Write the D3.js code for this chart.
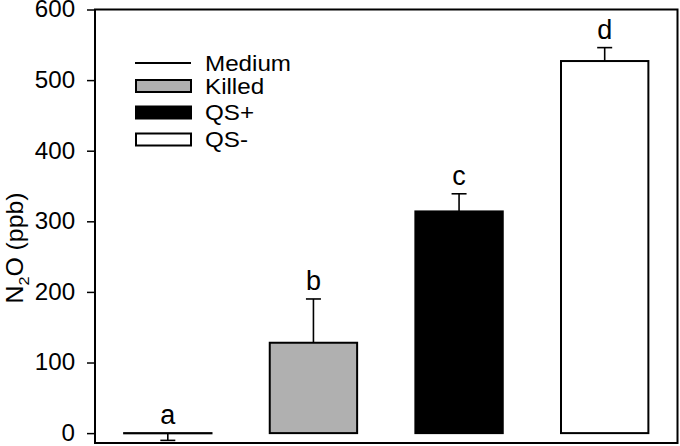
<!DOCTYPE html>
<html>
<head>
<meta charset="utf-8">
<script src="https://cdn.jsdelivr.net/npm/d3@7"></script>
<style>
  body { margin: 0; background: #fff; }
  svg { display: block; font-family: Arial, "Liberation Sans", sans-serif; }
</style>
</head>
<body>
<svg id="chart" width="680" height="446"></svg>
<script>
// treatments, means, standard errors, significance letters
const categories = ['Medium', 'Killed', 'QS+', 'QS-'];
const means = [-0.3, 128, 314, 527];
const errors = [10, 62, 25, 19];
const letters = ['a', 'b', 'c', 'd'];
const yTicks = [0, 100, 200, 300, 400, 500, 600];

const FILLS = ['#fff', '#b0b0b0', '#000', '#fff'];

// the original lettering is a bit wider than Arial
const TICK_FONT_PX = 23;
const TICK_STRETCH = 1.05;
const LEGEND_FONT_PX = 22;
const LEGEND_STRETCH = 1.1;
const LABEL_FONT_PX = 23;
const LABEL_STRETCH = 1.08;

const W = 680, H = 446;
const M = { top: 9.5, right: 2.5, bottom: 3, left: 95 };

const svg = d3.select('#chart');

const x = d3.scaleBand()
  .domain(categories)
  .range([M.left, W - M.right])
  .paddingInner(0.4)
  .paddingOuter(0.2);

const y = d3.scaleLinear()
  .domain([-14, 600])
  .range([H - M.bottom, M.top]);

// y axis, ticks outside
const yAxis = svg.append('g')
  .attr('transform', `translate(${M.left},0)`)
  .call(d3.axisLeft(y).tickValues(yTicks).tickSize(8).tickPadding(11).tickSizeOuter(0));
yAxis.select('.domain').remove();
yAxis.selectAll('line').attr('stroke', '#000').attr('stroke-width', 1.5);
yAxis.selectAll('text')
  .attr('font-size', TICK_FONT_PX)
  .attr('fill', '#000')
  .attr('font-family', 'Arial, "Liberation Sans", sans-serif')
  .attr('transform', `scale(${TICK_STRETCH},1)`);

// y label
const yl = svg.append('text')
  .attr('transform', `translate(23,248) rotate(-90) scale(${LABEL_STRETCH},1)`)
  .attr('text-anchor', 'middle')
  .attr('font-size', LABEL_FONT_PX);
yl.append('tspan').text('N');
yl.append('tspan').attr('font-size', 15).attr('dy', 6).text('2');
yl.append('tspan').attr('dy', -6).text('O (ppb)');

// error bars, drawn away from zero
const errTop = (d, i) => y(d + Math.sign(d || 1) * errors[i]);
const cx = d => x(d) + x.bandwidth() / 2;

const err = svg.append('g').attr('stroke', '#000').attr('stroke-width', 1.6);
err.selectAll('.stem')
  .data(means)
  .join('line')
  .attr('x1', (d, i) => cx(categories[i]))
  .attr('x2', (d, i) => cx(categories[i]))
  .attr('y1', d => y(d))
  .attr('y2', errTop);
err.selectAll('.cap')
  .data(means)
  .join('line')
  .attr('x1', (d, i) => cx(categories[i]) - 7.5)
  .attr('x2', (d, i) => cx(categories[i]) + 7.5)
  .attr('y1', errTop)
  .attr('y2', errTop);

// bars
svg.append('g')
  .selectAll('rect')
  .data(means)
  .join('rect')
  .attr('x', (d, i) => x(categories[i]))
  .attr('width', x.bandwidth())
  .attr('y', d => y(Math.max(0, d)))
  .attr('height', d => Math.abs(y(d) - y(0)))
  .attr('fill', (d, i) => FILLS[i])
  .attr('stroke', '#000')
  .attr('stroke-width', 2);

// letters above bars
svg.append('g')
  .selectAll('text')
  .data(means)
  .join('text')
  .attr('x', (d, i) => cx(categories[i]))
  .attr('y', (d, i) => Math.min(y(d), errTop(d, i)) - 9)
  .attr('text-anchor', 'middle')
  .attr('font-size', 27)
  .text((d, i) => letters[i]);

// frame
svg.append('rect')
  .attr('x', M.left)
  .attr('y', M.top)
  .attr('width', W - M.right - M.left)
  .attr('height', H - M.bottom - M.top)
  .attr('fill', 'none')
  .attr('stroke', '#000')
  .attr('stroke-width', 2);

// legend
const legendY = [63, 86, 112.5, 139.5];
const lg = svg.append('g');
categories.forEach((c, i) => {
  if (i === 0) {
    lg.append('line')
      .attr('x1', 135).attr('x2', 191)
      .attr('y1', legendY[i]).attr('y2', legendY[i])
      .attr('stroke', '#000').attr('stroke-width', 2);
  } else {
    lg.append('rect')
      .attr('x', 136).attr('width', 55)
      .attr('y', legendY[i] - 6).attr('height', 12)
      .attr('fill', FILLS[i])
      .attr('stroke', '#000').attr('stroke-width', 2);
  }
  lg.append('text')
    .attr('transform', `translate(205,${legendY[i] + 7.5}) scale(${LEGEND_STRETCH},1)`)
    .attr('font-size', LEGEND_FONT_PX)
    .text(c);
});
</script>
</body>
</html>
